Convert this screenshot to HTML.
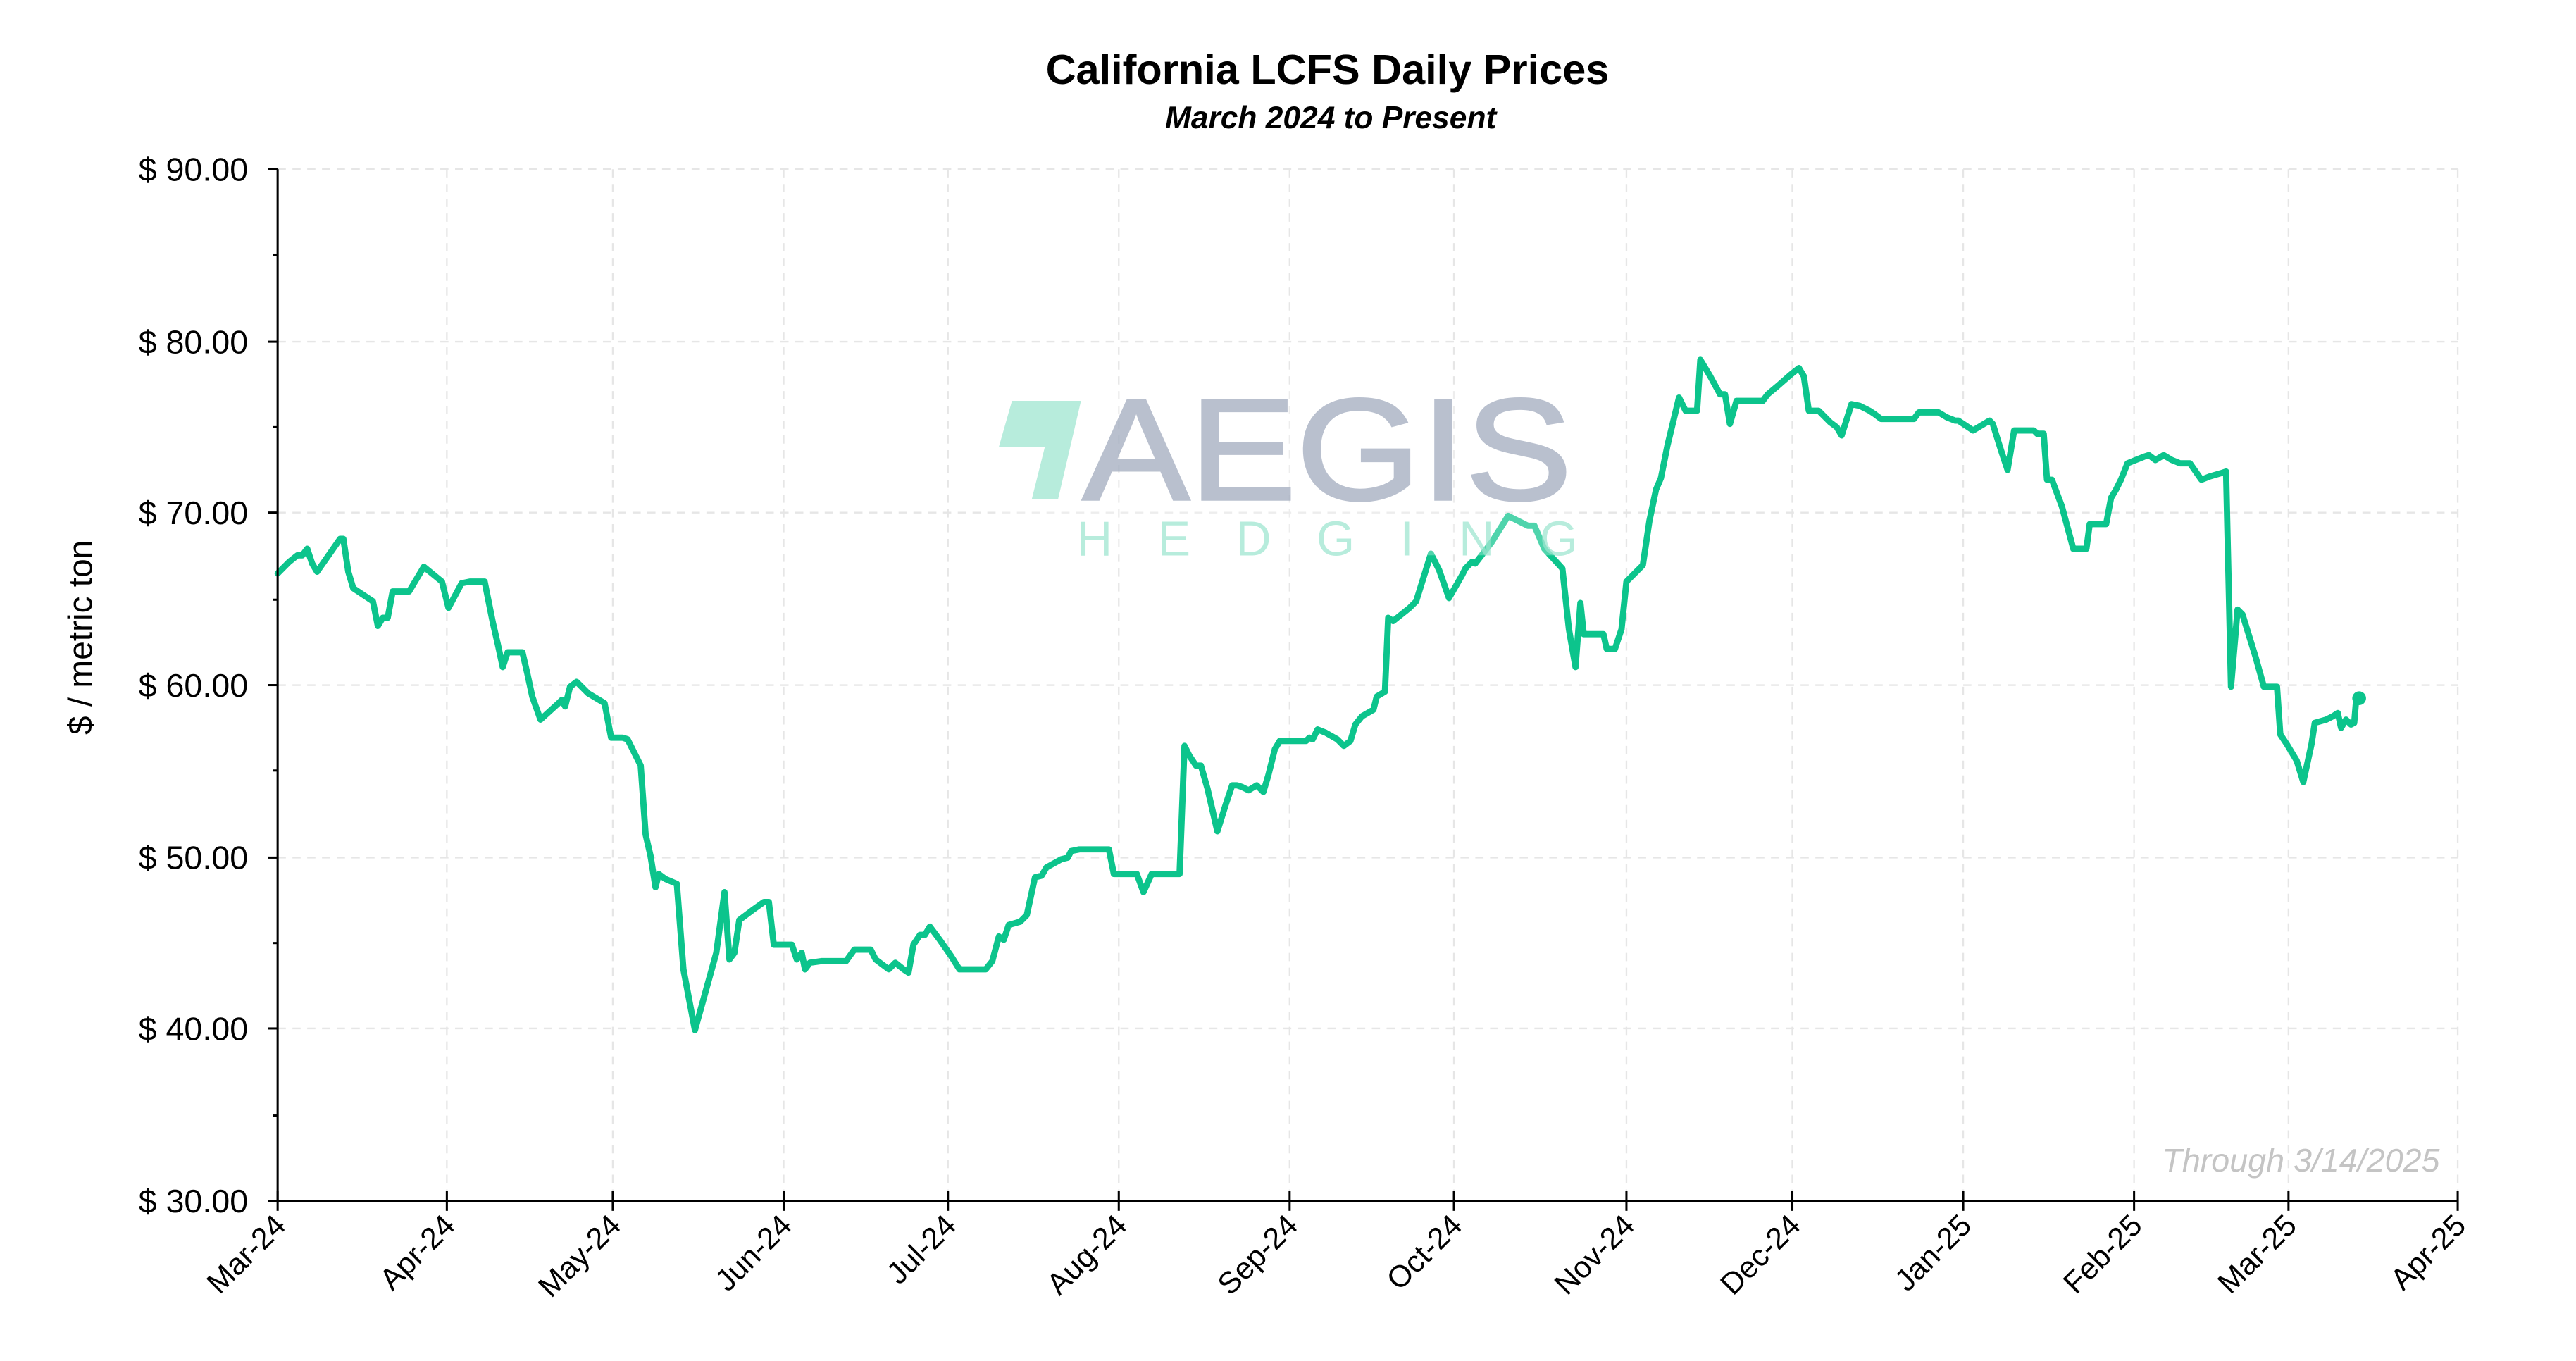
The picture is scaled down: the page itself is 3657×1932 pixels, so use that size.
<!DOCTYPE html>
<html><head><meta charset="utf-8"><style>
html,body{margin:0;padding:0;background:#fff;}
svg{display:block;}
text{font-family:"Liberation Sans",sans-serif;}
</style></head><body>
<svg width="3657" height="1932" viewBox="0 0 1568 828.4" preserveAspectRatio="none" xmlns="http://www.w3.org/2000/svg">
<rect width="1568" height="828.4" fill="#fff"/>
<g stroke="#e6e6e6" stroke-width="1" stroke-dasharray="5,4" fill="none">
<line x1="169" y1="103" x2="1496" y2="103"/><line x1="169" y1="208" x2="1496" y2="208"/><line x1="169" y1="312" x2="1496" y2="312"/><line x1="169" y1="417" x2="1496" y2="417"/><line x1="169" y1="522" x2="1496" y2="522"/><line x1="169" y1="626" x2="1496" y2="626"/>
<line x1="272" y1="103" x2="272" y2="731"/><line x1="373" y1="103" x2="373" y2="731"/><line x1="477" y1="103" x2="477" y2="731"/><line x1="577" y1="103" x2="577" y2="731"/><line x1="681" y1="103" x2="681" y2="731"/><line x1="785" y1="103" x2="785" y2="731"/><line x1="885" y1="103" x2="885" y2="731"/><line x1="990" y1="103" x2="990" y2="731"/><line x1="1091" y1="103" x2="1091" y2="731"/><line x1="1195" y1="103" x2="1195" y2="731"/><line x1="1299" y1="103" x2="1299" y2="731"/><line x1="1393" y1="103" x2="1393" y2="731"/><line x1="1496" y1="103" x2="1496" y2="731"/>
</g>
<polyline fill="none" stroke="#0cc48c" stroke-width="3.8" stroke-linejoin="round" stroke-linecap="round" points="169,349 176,342 181,338 184,338 187,334 190,343 193,348 200,338 207,328 209,328 212,348 215,358 224,364 227,366 230,381 233,376 236,376 239,360 249,360 258,345 269,354 273,370 281,355 286,354 295,354 300,379 303,392 306,406 309,397 318,397 321,410 324,424 329,438 340,428 342,426 344,430 347,418 351,415 358,422 368,428 372,449 379,449 382,450 390,466 393,508 396,521 399,540 401,532 405,535 412,538 416,590 423,627 436,580 441,543 444,584 447,580 450,560 458,554 465,549 468,549 471,575 482,575 485,584 488,580 490,590 493,586 500,585 515,585 520,578 530,578 533,584 537,587 541,590 545,586 550,590 553,592 556,575 560,569 563,569 566,564 572,572 579,582 584,590 600,590 604,585 608,570 611,572 614,563 621,561 625,557 630,534 634,533 637,528 646,523 650,522 652,518 657,517 675,517 678,532 692,532 696,543 701,532 718,532 721,454 724,460 728,466 731,466 735,480 741,506 746,490 750,478 753,478 756,479 760,481 765,478 769,482 772,472 776,456 779,451 795,451 797,449 799,450 802,444 807,446 814,450 818,454 822,451 825,441 829,436 836,432 838,424 843,421 845,376 848,378 858,370 862,366 871,337 876,347 882,364 890,350 892,346 896,342 898,343 908,330 913,322 918,314 926,318 930,320 934,320 940,334 951,346 955,383 959,406 962,367 964,386 976,386 978,395 983,395 987,383 990,354 995,349 1000,344 1004,317 1008,298 1011,291 1015,271 1022,242 1026,250 1030,250 1033,250 1035,219 1041,229 1047,240 1050,240 1053,258 1057,244 1073,244 1076,240 1082,235 1090,228 1095,224 1098,229 1101,250 1107,250 1114,257 1118,260 1121,265 1127,246 1132,247 1138,250 1141,252 1145,255 1165,255 1168,251 1180,251 1185,254 1190,256 1192,256 1198,260 1201,262 1211,256 1213,258 1218,274 1222,286 1226,262 1238,262 1240,264 1244,264 1246,292 1249,292 1255,308 1262,334 1270,334 1272,319 1282,319 1285,303 1288,298 1291,292 1295,282 1300,280 1305,278 1308,277 1312,280 1317,277 1322,280 1327,282 1333,282 1340,292 1345,290 1352,288 1355,287 1358,418 1362,371 1365,374 1373,400 1378,418 1384,418 1386,418 1388,447 1392,453 1398,463 1402,476 1407,453 1409,440 1416,438 1420,436 1423,434 1425,443 1428,438 1431,441 1433,440 1434,428 1436,425"/>
<circle cx="1436" cy="425" r="4.2" fill="#0cc48c"/>
<g opacity="0.8">
<rect x="610" y="238" width="350" height="100" fill="#fff" opacity="0.35"/>
<polygon points="616,244 658,244 644,304 628,304 636,272 608,272" fill="#a6e8d4"/>
<text x="808" y="304" text-anchor="middle" font-size="88" fill="#a8b1c3" stroke="#a8b1c3" stroke-width="1.5" textLength="298" lengthAdjust="spacingAndGlyphs">AEGIS</text>
<text x="808" y="338" text-anchor="middle" font-size="30" fill="#a6e8d4" textLength="305" lengthAdjust="spacing">HEDGING</text>
</g>
<g stroke="#000" stroke-width="1.3">
<line x1="169" y1="103" x2="169" y2="731"/><line x1="169" y1="731" x2="1496" y2="731"/>
<line x1="163" y1="103" x2="169" y2="103"/><line x1="163" y1="208" x2="169" y2="208"/><line x1="163" y1="312" x2="169" y2="312"/><line x1="163" y1="417" x2="169" y2="417"/><line x1="163" y1="522" x2="169" y2="522"/><line x1="163" y1="626" x2="169" y2="626"/><line x1="163" y1="731" x2="169" y2="731"/>
<line x1="166" y1="155" x2="169" y2="155"/><line x1="166" y1="260" x2="169" y2="260"/><line x1="166" y1="365" x2="169" y2="365"/><line x1="166" y1="469" x2="169" y2="469"/><line x1="166" y1="574" x2="169" y2="574"/><line x1="166" y1="679" x2="169" y2="679"/>
<line x1="169" y1="725" x2="169" y2="737"/><line x1="272" y1="725" x2="272" y2="737"/><line x1="373" y1="725" x2="373" y2="737"/><line x1="477" y1="725" x2="477" y2="737"/><line x1="577" y1="725" x2="577" y2="737"/><line x1="681" y1="725" x2="681" y2="737"/><line x1="785" y1="725" x2="785" y2="737"/><line x1="885" y1="725" x2="885" y2="737"/><line x1="990" y1="725" x2="990" y2="737"/><line x1="1091" y1="725" x2="1091" y2="737"/><line x1="1195" y1="725" x2="1195" y2="737"/><line x1="1299" y1="725" x2="1299" y2="737"/><line x1="1393" y1="725" x2="1393" y2="737"/><line x1="1496" y1="725" x2="1496" y2="737"/>
</g>
<g font-size="20" fill="#000" text-anchor="end">
<text x="151" y="110">$ 90.00</text><text x="151" y="215">$ 80.00</text><text x="151" y="319">$ 70.00</text><text x="151" y="424">$ 60.00</text><text x="151" y="529">$ 50.00</text><text x="151" y="633">$ 40.00</text><text x="151" y="738">$ 30.00</text>
</g>
<text transform="translate(56,388) rotate(-90)" font-size="20.5" text-anchor="middle">$ / metric ton</text>
<g font-size="18.5" fill="#000" text-anchor="end">
<text transform="translate(175,747) rotate(-45)">Mar-24</text>
<text transform="translate(278,747) rotate(-45)">Apr-24</text>
<text transform="translate(379,747) rotate(-45)">May-24</text>
<text transform="translate(483,747) rotate(-45)">Jun-24</text>
<text transform="translate(583,747) rotate(-45)">Jul-24</text>
<text transform="translate(687,747) rotate(-45)">Aug-24</text>
<text transform="translate(791,747) rotate(-45)">Sep-24</text>
<text transform="translate(891,747) rotate(-45)">Oct-24</text>
<text transform="translate(996,747) rotate(-45)">Nov-24</text>
<text transform="translate(1097,747) rotate(-45)">Dec-24</text>
<text transform="translate(1201,747) rotate(-45)">Jan-25</text>
<text transform="translate(1305,747) rotate(-45)">Feb-25</text>
<text transform="translate(1399,747) rotate(-45)">Mar-25</text>
<text transform="translate(1502,747) rotate(-45)">Apr-25</text>
</g>
<text x="808" y="51" text-anchor="middle" font-size="25.5" font-weight="bold">California LCFS Daily Prices</text>
<text x="810" y="78" text-anchor="middle" font-size="19" font-weight="bold" font-style="italic">March 2024 to Present</text>
<text x="1485" y="713" text-anchor="end" font-size="20" font-style="italic" fill="#c4c4c4">Through 3/14/2025</text>
</svg>
</body></html>
